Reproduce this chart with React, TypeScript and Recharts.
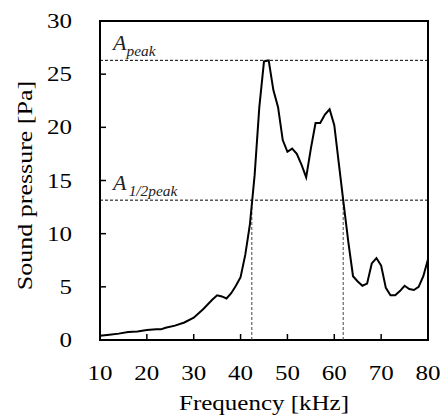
import { LineChart, Line, XAxis, YAxis, ReferenceLine, ReferenceArea } from 'recharts';

const freq = [10, 12, 14, 16, 18, 20, 22, 23, 24, 26, 28, 30, 32, 34, 35, 36, 37, 38, 39, 40, 41, 42, 43, 44, 45, 46, 47, 48, 49, 50, 51, 52, 53, 54, 55, 56, 57, 58, 59, 60, 61, 62, 63, 64, 65, 66, 67, 68, 69, 70, 71, 72, 73, 74, 75, 76, 77, 78, 79, 80];
const pressure = [0.4, 0.5, 0.6, 0.75, 0.8, 0.95, 1.0, 1.0, 1.15, 1.35, 1.65, 2.1, 2.9, 3.8, 4.2, 4.1, 3.9, 4.4, 5.1, 5.9, 8.0, 10.9, 15.5, 21.9, 26.2, 26.3, 23.5, 21.9, 18.8, 17.7, 18.0, 17.5, 16.5, 15.3, 18.0, 20.4, 20.4, 21.2, 21.7, 20.2, 16.5, 12.8, 9.2, 6.0, 5.5, 5.1, 5.3, 7.2, 7.7, 7.0, 4.9, 4.2, 4.2, 4.6, 5.1, 4.8, 4.7, 5.0, 6.0, 7.6];
const xTicks = [10, 20, 30, 40, 50, 60, 70, 80];
const yTicks = [0, 5, 10, 15, 20, 25, 30];
const peak = 26.3;
const halfPeak = 13.15;
const halfLow = 42.4;
const halfHigh = 61.9;

const data = freq.map((f, i) => ({ f, p: pressure[i] }));

const FONT = 'Liberation Serif';
const SX = 1.25;

const XTick = (props: any) => {
  const { x, y, payload } = props;
  return (
    <g>
      <line x1={x} y1={y} x2={x} y2={y - 6} stroke="#000" strokeWidth={1.5} />
      <text transform={`translate(${x},${y + 40}) scale(${SX},1)`} textAnchor="middle" fontFamily={FONT} fontSize={20} fill="#000">
        {payload.value}
      </text>
    </g>
  );
};

const YTick = (props: any) => {
  const { x, y, payload } = props;
  return (
    <g>
      <line x1={x} y1={y} x2={x + 6} y2={y} stroke="#000" strokeWidth={1.5} />
      <text transform={`translate(${x - 28},${y + 7}) scale(${SX},1)`} textAnchor="end" fontFamily={FONT} fontSize={20} fill="#000">
        {payload.value}
      </text>
    </g>
  );
};

const PeakLabel = (props: any) => {
  const { viewBox, sub } = props;
  const x = viewBox.x + 13;
  const y = viewBox.y;
  return (
    <text transform={`translate(${x},${y - 10}) scale(1.1,1)`} fontFamily={FONT} fontStyle="italic" fill="#222">
      <tspan fontSize={20}>A</tspan>
      <tspan fontSize={14} dy={6} dx={sub === 'peak' ? 0 : 2}>{sub}</tspan>
    </text>
  );
};

const XLabel = (props: any) => {
  const { viewBox } = props;
  const cx = viewBox.x + viewBox.width / 2;
  return (
    <text transform={`translate(${cx},410) scale(${SX},1)`} textAnchor="middle" fontFamily={FONT} fontSize={20} fill="#000">
      Frequency [kHz]
    </text>
  );
};

const YLabel = (props: any) => {
  const { viewBox } = props;
  const cy = viewBox.y + viewBox.height / 2 + 5;
  return (
    <text transform={`translate(32,${cy}) rotate(-90) scale(1.3,1)`} textAnchor="middle" fontFamily={FONT} fontSize={20} fill="#000">
      Sound pressure [Pa]
    </text>
  );
};

export default function App() {
  return (
    <div style={{ position: 'absolute', left: 0, top: 0, background: '#fff' }}>
      <LineChart width={446} height={416} data={data} margin={{ top: 21, right: 18, bottom: 0, left: 0 }}>
        <XAxis
          dataKey="f"
          type="number"
          domain={[10, 80]}
          ticks={xTicks}
          tick={<XTick />}
          tickSize={0}
          tickMargin={0}
          tickLine={false}
          axisLine={false}
          height={76}
          label={<XLabel />}
        />
        <YAxis
          type="number"
          domain={[0, 30]}
          ticks={yTicks}
          tick={<YTick />}
          tickSize={0}
          tickMargin={0}
          tickLine={false}
          axisLine={false}
          width={100}
          label={<YLabel />}
        />
        <ReferenceLine y={peak} stroke="#000" strokeWidth={1} strokeDasharray="3 2" label={<PeakLabel sub="peak" />} />
        <ReferenceLine y={halfPeak} stroke="#000" strokeWidth={1} strokeDasharray="3 2" label={<PeakLabel sub="1/2peak" />} />
        <ReferenceLine segment={[{ x: halfLow, y: 0 }, { x: halfLow, y: halfPeak }]} stroke="#444" strokeWidth={1} strokeDasharray="3 2" />
        <ReferenceLine segment={[{ x: halfHigh, y: 0 }, { x: halfHigh, y: halfPeak }]} stroke="#444" strokeWidth={1} strokeDasharray="3 2" />
        <Line type="linear" dataKey="p" stroke="#000" strokeWidth={2} dot={false} isAnimationActive={false} />
        <ReferenceArea x1={10} x2={80} y1={0} y2={30} fill="none" stroke="#000" strokeWidth={2} />
      </LineChart>
    </div>
  );
}
